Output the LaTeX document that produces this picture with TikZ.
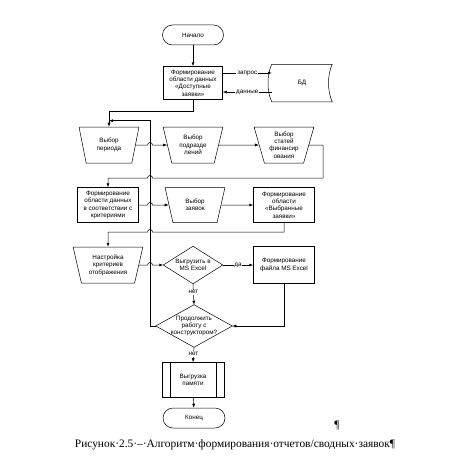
\documentclass[tikz,border=0pt]{standalone}
\usepackage{fontspec}
\setmainfont{Liberation Serif}
\newfontfamily\blockfont{Liberation Sans}
\usetikzlibrary{shapes.geometric,arrows.meta}

\tikzset{
  every node/.style={font=\blockfont\fontsize{6.3}{7.4}\selectfont, align=center, inner sep=1pt},
  term/.style={draw, rounded corners=10pt, minimum width=61pt, minimum height=20pt},
  proc/.style={draw, minimum width=61pt, minimum height=35pt},
  manual/.style={draw, trapezium, shape border rotate=180, trapezium left angle=74,
    trapezium right angle=74, trapezium stretches=true, minimum width=60pt,
    minimum height=36pt, inner sep=0pt},
  decide/.style={inner sep=0pt, minimum width=59pt, minimum height=37pt},
  lbl/.style={fill=white, inner sep=0.8pt},
  arr/.style={-{Latex[length=4pt,width=3pt]}},
}

\begin{document}
\begin{tikzpicture}[x=1pt, y=-1pt, line width=0.5pt]
    \useasboundingbox (0,0) rectangle (470,460);

    \node[term] (start) at (193,35) {Начало};
    \node[proc, minimum width=59pt, minimum height=33pt] (area) at (193,83)
        {Формирование\\области данных\\«Доступные\\заявки»};
    \node[minimum width=60pt, minimum height=37pt] (bd) at (302,83) {БД};
    \draw (bd.north west) -- (bd.north east)
        .. controls +(-5,10) and +(-5,-10) .. (bd.south east) -- (bd.south west)
        .. controls +(-5,-10) and +(-5,10) .. (bd.north west);

    \node[manual] (per) at (109,145) {Выбор\\периода};
    \node[manual] (pod) at (193,145) {Выбор\\подразде\\лений};
    \node[manual] (stat) at (284,145) {Выбор\\статей\\финансир\\ования};

    \node[proc] (crit) at (108,205) {Формирование\\области данных\\в соответствии с\\критериями};
    \node[manual, minimum height=35pt] (zay) at (195,205) {Выбор\\заявок};
    \node[proc] (sel) at (284,205) {Формирование\\области\\«Выбранные\\заявки»};

    \node[manual, minimum width=70pt] (nast) at (108,265) {Настройка\\критериев\\отображения};
    \node[decide] (excel) at (193,265) {Выгрузить в\\MS Excel};
    \draw (excel.north) -- (excel.east) -- (excel.south) -- (excel.west) -- cycle;
    \node[proc, minimum height=37pt] (file) at (284,265) {Формирование\\файла MS Excel};

    \node[decide, minimum width=76pt, minimum height=42pt] (cont) at (194,326)
        {Продолжить\\работу с\\конструктором?};
    \draw (cont.north) -- (cont.east) -- (cont.south) -- (cont.west) -- cycle;
    \node[proc, minimum width=62pt] (mem) at (193,380) {Выгрузка\\памяти};
    \draw ([xshift=8pt]mem.north west) -- ([xshift=8pt]mem.south west);
    \draw ([xshift=-8pt]mem.north east) -- ([xshift=-8pt]mem.south east);
    \node[term, minimum width=62pt] (end) at (194,418) {Конец};

    % connectors
    \draw[arr] (start) -- (area);
    \draw[arr] ([yshift=10pt]area.east) -- node[lbl] {запрос} ([yshift=10pt]bd.west);
    \draw[arr] ([yshift=-9pt]bd.west) -- node[lbl] {данные} ([yshift=-9pt]area.east);
    \draw[arr] (area.south) -- (193,111) -| (per.north);
    \draw[arr] (cont.west) -- (150,326) |- ([yshift=6pt]per.north);

    \draw[arr] (per.east) -- (147.5,145) arc[start angle=180, end angle=360, radius=2.5] -- (pod.west);
    \draw[arr] (pod.east) -- (stat.west);
    \draw[arr] (stat.east) -- (323,145) -- (323,178) -- (152.5,178)
        arc[start angle=0, end angle=-180, radius=2.5] -| (crit.north);

    \draw[arr] (crit.east) -- (147.5,205) arc[start angle=180, end angle=360, radius=2.5] -- (zay.west);
    \draw[arr] (zay.east) -- (sel.west);
    \draw[arr] (sel.south) -- (284,232) -- (152.5,232)
        arc[start angle=0, end angle=-180, radius=2.5] -| (nast.north);

    \draw[arr] (nast.east) -- (147.5,265) arc[start angle=180, end angle=360, radius=2.5] -- (excel.west);
    \draw[arr] (excel.east) -- node[lbl] {да} (file.west);
    \draw[arr] (excel.south) -- node[lbl, pos=0.4] {нет} (cont.north);
    \draw[arr] (file.south) |- (cont.east);
    \draw[arr] (cont.south) -- node[lbl, pos=0.45] {нет} (mem.north);
    \draw[arr] (mem) -- (end);

    \node[font=\fontsize{11.4}{13}\selectfont] (pil) at (337,425) {¶};
    \node[font=\fontsize{11.4}{13}\selectfont] (cap) at (235,445)
        {Рисунок·2.5·–·Алгоритм·формирования·отчетов/сводных·заявок¶};
\end{tikzpicture}
\end{document}
